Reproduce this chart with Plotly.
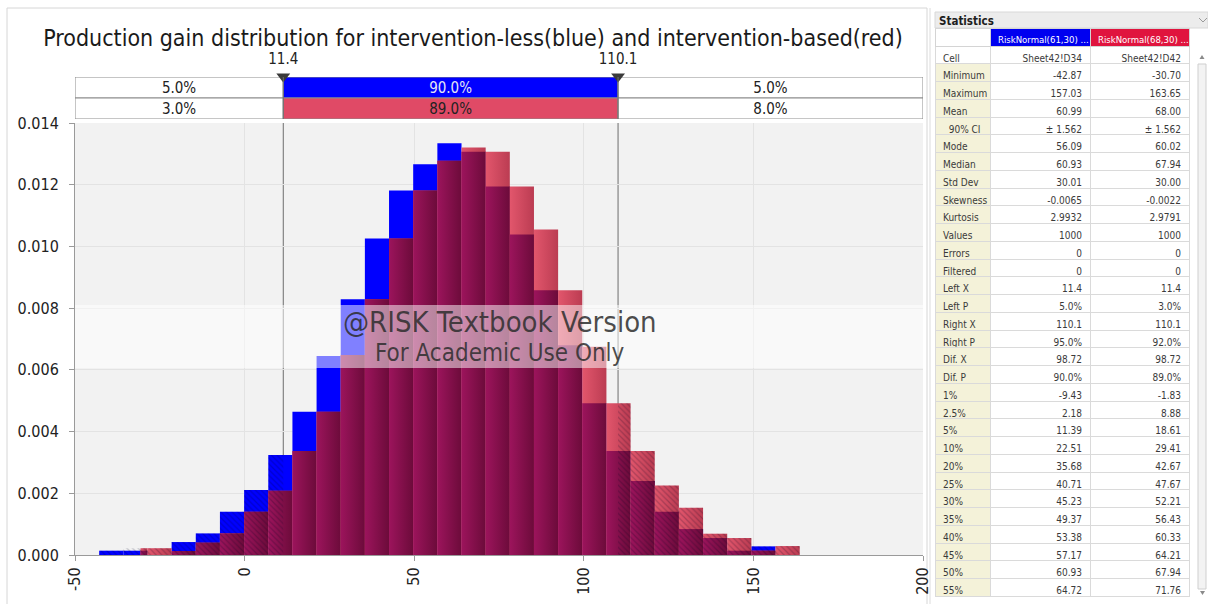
import plotly.graph_objects as go

# ---------------- data ----------------
# shared histogram bins (29 bins over the combined simulated range)
bin_edges = [-42.87, -35.75, -28.63, -21.51, -14.39, -7.27, -0.14, 6.98, 14.10, 21.22,
             28.34, 35.46, 42.58, 49.70, 56.83, 63.95, 71.07, 78.19, 85.31, 92.43,
             99.55, 106.67, 113.79, 120.91, 128.03, 135.16, 142.28, 149.40, 156.52, 163.65]

# relative frequency density per bin
blue_density = [0.00014, 0.00014, 0.0, 0.00042, 0.00070, 0.00140, 0.00211, 0.00324, 0.00464,
                0.00645, 0.00829, 0.01026, 0.01181, 0.01266, 0.01334, 0.01307, 0.01194,
                0.01039, 0.00858, 0.00680, 0.00492, 0.00337, 0.00240, 0.00140, 0.00084,
                0.00055, 0.00014, 0.00028, 0.0]
red_density = [0.0, 0.00022, 0.00022, 0.00013, 0.00040, 0.00070, 0.00140, 0.00208, 0.00337,
               0.00464, 0.00648, 0.00829, 0.01026, 0.01181, 0.01278, 0.01321, 0.01307,
               0.01194, 0.01055, 0.00858, 0.00675, 0.00492, 0.00337, 0.00225, 0.00153,
               0.00069, 0.00055, 0.00014, 0.00029]

blue_min, blue_max = -42.87, 157.03
red_min, red_max = -30.70, 163.65

left_x, right_x = 11.4, 110.1
blue_split = [5.0, 90.0, 5.0]
red_split = [3.0, 89.0, 8.0]

x_ticks = [-50, 0, 50, 100, 150, 200]
y_ticks = [0.000, 0.002, 0.004, 0.006, 0.008, 0.010, 0.012, 0.014]

series_names = ["RiskNormal(61,30) ...", "RiskNormal(68,30) ..."]
stat_labels = ["Cell", "Minimum", "Maximum", "Mean", "90% CI", "Mode", "Median", "Std Dev",
               "Skewness", "Kurtosis", "Values", "Errors", "Filtered", "Left X", "Left P",
               "Right X", "Right P", "Dif. X", "Dif. P", "1%", "2.5%", "5%", "10%", "20%",
               "25%", "30%", "35%", "40%", "45%", "50%", "55%"]
blue_stats = ["Sheet42!D34", "-42.87", "157.03", "60.99", "± 1.562", "56.09", "60.93", "30.01",
              "-0.0065", "2.9932", "1000", "0", "0", "11.4", "5.0%", "110.1", "95.0%", "98.72",
              "90.0%", "-9.43", "2.18", "11.39", "22.51", "35.68", "40.71", "45.23", "49.37",
              "53.38", "57.17", "60.93", "64.72"]
red_stats = ["Sheet42!D42", "-30.70", "163.65", "68.00", "± 1.562", "60.02", "67.94", "30.00",
             "-0.0022", "2.9791", "1000", "0", "0", "11.4", "3.0%", "110.1", "92.0%", "98.72",
             "89.0%", "-1.83", "8.88", "18.61", "29.41", "42.67", "47.67", "52.21", "56.43",
             "60.33", "64.21", "67.94", "71.76"]

title_text = "Production gain distribution for intervention-less(blue) and intervention-based(red)"

# ---------------- geometry helpers ----------------
W, H = 1208, 604
PLOT_L, PLOT_R, PLOT_T, PLOT_B = 75, 923, 123, 555
ROW_T, ROW_B = 77, 119
MARK_T, MARK_B = 50, 82


def fx(px):
    return px / W


def fy(py):
    return 1 - py / H


def nb(s):
    # keep table text on one line
    return s.replace(" ", "\u00a0")


FONT = "Tahoma, 'DejaVu Sans Condensed', Roboto, sans-serif"
TFONT = "Tahoma, 'DejaVu Sans Condensed', Roboto, sans-serif"
BLUE = "#0000ff"
RED_GRAD = [[0, "#e2566c"], [1, "#bb3c52"]]
MIX_GRAD = [[0, "#9c145c"], [1, "#6c0b3a"]]


def bar_span(i, lo, hi):
    a = max(bin_edges[i], lo)
    b = min(bin_edges[i + 1], hi)
    if b <= a:
        a, b = bin_edges[i], bin_edges[i + 1]
    return a, b


fig = go.Figure()

# blue histogram (flat fill)
bx, bw = [], []
for i in range(len(blue_density)):
    a, b = bar_span(i, blue_min, blue_max)
    bx.append((a + b) / 2)
    bw.append(b - a)
fig.add_trace(go.Bar(x=bx, y=blue_density, width=bw,
                     marker=dict(color=BLUE, line=dict(width=0)), hoverinfo="skip"))

# red histogram on top, shaded left-to-right; the part covering blue is darker
for i, (bd, rd) in enumerate(zip(blue_density, red_density)):
    if rd <= 0:
        continue
    a, b = bar_span(i, red_min, red_max)
    for top, grad in ((rd, RED_GRAD), (min(bd, rd), MIX_GRAD)):
        if top <= 0:
            continue
        fig.add_trace(go.Scatter(
            x=[a, a, b, b, a], y=[0, top, top, 0, 0], mode="lines", fill="toself",
            line=dict(width=0, color="rgba(0,0,0,0)"),
            fillgradient=dict(type="horizontal", colorscale=grad),
            hoverinfo="skip"))

# tail pieces (outside the delimiters) get a light hatch overlay
tx, ty = [], []
for i in range(len(blue_density)):
    a, b = bin_edges[i], bin_edges[i + 1]
    top = max(blue_density[i], red_density[i])
    if top <= 0:
        continue
    for lo, hi in ((a, min(b, left_x)), (max(a, right_x), b)):
        if hi > lo:
            tx += [lo, lo, hi, hi, lo, None]
            ty += [0, top, top, 0, 0, None]
fig.add_trace(go.Scatter(
    x=tx, y=ty, mode="lines", fill="toself", line=dict(width=0, color="rgba(0,0,0,0)"),
    fillcolor="rgba(0,0,0,0)",
    fillpattern=dict(shape="\\", size=4, solidity=0.3, fgcolor="rgba(0,0,30,0.42)",
                     bgcolor="rgba(0,0,0,0)"),
    hoverinfo="skip"))

# delimiter rows above the histogram
span_lo, span_hi = x_ticks[0], x_ticks[-1]
seg_base = [span_lo, left_x, right_x]
seg_len = [left_x - span_lo, right_x - left_x, span_hi - right_x]
for row_y, split, mid_col, mid_txt in ((1.5, blue_split, BLUE, "#e6e6f5"),
                                        (0.5, red_split, "#e04a66", "#222222")):
    fig.add_trace(go.Bar(
        y=[row_y] * 3, x=seg_len, base=seg_base, orientation="h", width=1,
        marker=dict(color=["white", mid_col, "white"], line=dict(color="#8c8c8c", width=1)),
        text=[f"{v:.1f}%" for v in split], textposition="inside", insidetextanchor="middle",
        constraintext="none",
        textfont=dict(family=FONT, size=15, color=["#222222", mid_txt, "#222222"]),
        xaxis="x2", yaxis="y2", hoverinfo="skip"))

# delimiter markers and their values
fig.add_trace(go.Scatter(
    x=[left_x, right_x], y=[0.17, 0.17], mode="markers+text", xaxis="x3", yaxis="y3",
    marker=dict(symbol="triangle-down", size=12, color="#3a3a3a"),
    text=[f"{left_x:.1f}", f"{right_x:.1f}"], textposition="top center",
    textfont=dict(family=FONT, size=15, color="#222222"), cliponaxis=False, hoverinfo="skip"))

# statistics table
label_fill = ["white"] + ["#f4f2d9"] * (len(stat_labels) - 1)
label_txt = [nb(s) if s != "90% CI" else "\u00a0\u00a0" + nb(s) for s in stat_labels]
fig.add_trace(go.Table(
    domain=dict(x=[fx(935), fx(1189)], y=[0, fy(28)]),
    columnwidth=[55, 100, 99],
    header=dict(values=[""] + [nb(s) for s in series_names],
                fill_color=["white", "#0000f0", "#e0143e"],
                font=dict(family=TFONT, size=9.5, color=["#222222", "white", "white"]),
                align="left", height=18, line=dict(color="#d4d4d4", width=1)),
    cells=dict(values=[label_txt, [nb(s) for s in blue_stats], [nb(s) for s in red_stats]],
               fill_color=[label_fill, "white", "white"],
               font=dict(family=TFONT, size=10, color="#3a3a3a"),
               align=["left", "right", "right"], height=17.75,
               line=dict(color="#dadada", width=1))))

shapes = []
# histogram plot background (only the main subplot is shaded)
shapes.append(dict(type="rect", xref="x domain", yref="y domain", x0=0, x1=1, y0=0, y1=1,
                   fillcolor="#f2f2f2", line=dict(width=0), layer="below"))
# outer frame of the chart panel
shapes.append(dict(type="rect", xref="paper", yref="paper", x0=fx(7), x1=fx(927),
                   y0=-0.01, y1=fy(8), line=dict(color="#d6d6d6", width=1), layer="below"))
# delimiter lines
for v in (left_x, right_x):
    shapes.append(dict(type="line", xref="x", yref="y domain", x0=v, x1=v, y0=0, y1=1,
                       line=dict(color="#6e6e6e", width=1), layer="below"))
    shapes.append(dict(type="line", xref="x2", yref="y2 domain", x0=v, x1=v, y0=0, y1=1,
                       line=dict(color="#6e6e6e", width=1)))
# watermark band
band_lo = (PLOT_B - 368) / (PLOT_B - PLOT_T)
band_hi = (PLOT_B - 305) / (PLOT_B - PLOT_T)
shapes.append(dict(type="rect", xref="x domain", yref="y domain", x0=0, x1=1,
                   y0=band_lo, y1=band_hi, fillcolor="rgba(255,255,255,0.5)",
                   line=dict(width=0), layer="above"))
# statistics header strip
shapes.append(dict(type="rect", xref="paper", yref="paper", x0=fx(935), x1=1,
                   y0=fy(28), y1=fy(12), fillcolor="#ececec",
                   line=dict(color="#d8d8d8", width=1)))
shapes.append(dict(type="line", xref="paper", yref="paper", x0=fx(930), x1=fx(930),
                   y0=0, y1=fy(8), line=dict(color="#dcdcdc", width=1)))
# chevron in the header strip
shapes.append(dict(type="path", xref="paper", yref="paper",
                   path=f"M {fx(1199)},{fy(18)} L {fx(1203)},{fy(22)} L {fx(1207)},{fy(18)}",
                   line=dict(color="#9a9a9a", width=1)))
# scrollbar
shapes.append(dict(type="rect", xref="paper", yref="paper", x0=fx(1198), x1=fx(1206),
                   y0=fy(589), y1=fy(64), fillcolor="#f3f3f3",
                   line=dict(color="#cfcfcf", width=1)))
shapes.append(dict(type="path", xref="paper", yref="paper",
                   path=f"M {fx(1199.5)},{fy(59)} L {fx(1202)},{fy(55)} L {fx(1204.5)},{fy(59)} Z",
                   fillcolor="#8a8a8a", line=dict(width=0)))
shapes.append(dict(type="path", xref="paper", yref="paper",
                   path=f"M {fx(1200)},{fy(591)} L {fx(1202.5)},{fy(595)} L {fx(1205)},{fy(591)} Z",
                   fillcolor="#8a8a8a", line=dict(width=0)))

annotations = [
    dict(text="@RISK Textbook Version", xref="x domain", yref="y domain",
         x=(500 - PLOT_L) / (PLOT_R - PLOT_L), y=(PLOT_B - 322) / (PLOT_B - PLOT_T),
         showarrow=False, font=dict(family=FONT, size=29, color="rgba(45,45,45,0.85)")),
    dict(text="For Academic Use Only", xref="x domain", yref="y domain",
         x=(500 - PLOT_L) / (PLOT_R - PLOT_L), y=(PLOT_B - 353) / (PLOT_B - PLOT_T),
         showarrow=False, font=dict(family=FONT, size=24, color="rgba(45,45,45,0.85)")),
    dict(text="<b>Statistics</b>", xref="paper", yref="paper", x=fx(937), y=fy(20.5),
         xanchor="left", yanchor="middle", showarrow=False,
         font=dict(family=TFONT, size=11.5, color="#1e1e1e")),
]

axis_font = dict(family=FONT, size=16, color="#222222")
hidden_x = dict(domain=[fx(PLOT_L), fx(PLOT_R)], range=[x_ticks[0], x_ticks[-1]],
                matches="x", visible=False, automargin=False)
fig.update_layout(
    width=W, height=H, margin=dict(l=0, r=0, t=0, b=0, pad=0, autoexpand=False),
    paper_bgcolor="white", plot_bgcolor="rgba(0,0,0,0)",
    barmode="overlay", showlegend=False,
    title=dict(text=title_text, x=fx(473), y=fy(38), xanchor="center", yanchor="middle",
               font=dict(family=FONT, size=23, color="#1a1a1a"), automargin=False),
    xaxis=dict(domain=[fx(PLOT_L), fx(PLOT_R)], range=[x_ticks[0], x_ticks[-1]],
               tickvals=x_ticks, ticktext=[str(t) for t in x_ticks], tickangle=-90,
               showgrid=True, gridcolor="#e3e3e3", zeroline=False, automargin=False,
               showline=True, linecolor="#9a9a9a", ticks="outside", ticklen=5,
               tickcolor="#9a9a9a", tickfont=axis_font, anchor="y"),
    yaxis=dict(domain=[fy(PLOT_B), fy(PLOT_T)], range=[y_ticks[0], y_ticks[-1]],
               tickvals=y_ticks, tickformat=".3f", showgrid=True, gridcolor="#e3e3e3",
               zeroline=False, showline=True, linecolor="#9a9a9a", ticks="outside",
               ticklen=5, tickcolor="#9a9a9a", tickfont=axis_font, anchor="x",
               automargin=False, ticklabelstandoff=7),
    xaxis2=dict(hidden_x, anchor="y2"),
    yaxis2=dict(domain=[fy(ROW_B), fy(ROW_T)], range=[0, 2], visible=False, anchor="x2",
                automargin=False),
    xaxis3=dict(hidden_x, anchor="y3"),
    yaxis3=dict(domain=[fy(MARK_B), fy(MARK_T)], range=[0, 1], visible=False, anchor="x3",
                automargin=False),
    shapes=shapes, annotations=annotations,
)

fig.write_html("out.html")
